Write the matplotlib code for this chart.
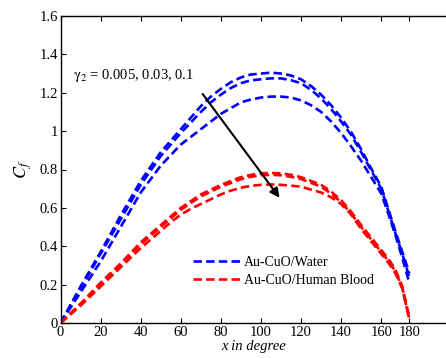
import numpy as np
import matplotlib
matplotlib.use("Agg")
import matplotlib.pyplot as plt

plt.rcParams['font.family'] = ['Liberation Serif', 'DejaVu Serif']
plt.rcParams['mathtext.fontset'] = 'stix'

# Angle (degrees) and skin friction for the two nanofluids, gamma_2 = 0.005, 0.03, 0.1
angle = [0, 5, 10, 15, 20, 25, 30, 35, 40, 45, 50, 55, 60, 65, 70, 75, 80, 85, 90,
         95, 100, 105, 110, 115, 120, 125, 130, 135, 140, 145, 150, 155, 160, 165, 170, 175, 180]

cf_water_1 = [0, 0.095, 0.19, 0.28, 0.37, 0.465, 0.56, 0.65, 0.74, 0.815, 0.89, 0.95, 1.01, 1.07, 1.13, 1.18, 1.22, 1.255, 1.28,
              1.295, 1.30, 1.305, 1.30, 1.29, 1.27, 1.235, 1.19, 1.135, 1.07, 0.995, 0.905, 0.805, 0.71, 0.595, 0.48, 0.37, 0.26]
cf_water_2 = [0, 0.09, 0.18, 0.27, 0.36, 0.45, 0.54, 0.63, 0.72, 0.795, 0.87, 0.93, 0.99, 1.045, 1.10, 1.15, 1.19, 1.225, 1.25,
              1.265, 1.27, 1.275, 1.275, 1.265, 1.25, 1.215, 1.17, 1.115, 1.05, 0.98, 0.89, 0.795, 0.70, 0.585, 0.47, 0.36, 0.24]
cf_water_3 = [0, 0.08, 0.16, 0.24, 0.32, 0.41, 0.50, 0.59, 0.68, 0.75, 0.82, 0.875, 0.93, 0.97, 1.01, 1.05, 1.09, 1.12, 1.15,
              1.165, 1.175, 1.18, 1.18, 1.175, 1.16, 1.135, 1.10, 1.05, 0.99, 0.92, 0.845, 0.76, 0.675, 0.57, 0.46, 0.34, 0.21]

cf_blood_1 = [0, 0.05, 0.10, 0.155, 0.21, 0.26, 0.31, 0.365, 0.42, 0.465, 0.51, 0.555, 0.60, 0.635, 0.67, 0.695, 0.72, 0.74, 0.76,
              0.772, 0.78, 0.782, 0.78, 0.772, 0.76, 0.74, 0.72, 0.685, 0.64, 0.58, 0.51, 0.445, 0.38, 0.335, 0.28, 0.19, 0.03]
cf_blood_2 = [0, 0.05, 0.10, 0.15, 0.20, 0.25, 0.30, 0.355, 0.41, 0.455, 0.50, 0.545, 0.59, 0.625, 0.66, 0.685, 0.71, 0.73, 0.75,
              0.762, 0.77, 0.772, 0.77, 0.762, 0.75, 0.73, 0.71, 0.675, 0.63, 0.57, 0.50, 0.435, 0.37, 0.325, 0.27, 0.185, 0.02]
cf_blood_3 = [0, 0.045, 0.09, 0.14, 0.19, 0.24, 0.29, 0.34, 0.39, 0.435, 0.48, 0.525, 0.565, 0.595, 0.62, 0.645, 0.67, 0.69, 0.705,
              0.715, 0.72, 0.722, 0.72, 0.716, 0.71, 0.695, 0.68, 0.655, 0.62, 0.565, 0.49, 0.425, 0.36, 0.315, 0.26, 0.18, 0.02]

x_ticks = [0, 20, 40, 60, 80, 100, 120, 140, 160, 180]
y_ticks = [0, 0.2, 0.4, 0.6, 0.8, 1.0, 1.2, 1.4, 1.6]


# the last interval of the x axis (160-180) is drawn shorter
def forward(x):
    x = np.asarray(x, dtype=float)
    return np.where(x <= 160, x, 160 + (x - 160) * 0.7)


def inverse(y):
    y = np.asarray(y, dtype=float)
    return np.where(y <= 160, y, 160 + (y - 160) / 0.7)


fig = plt.figure(figsize=(4.46, 3.58), dpi=100)
ax = fig.add_axes([60.5 / 446, 35 / 358, (446 - 60.5) / 446, 307 / 358])
ax.set_xscale('function', functions=(forward, inverse))

dash = (0, (3.2, 1.6))
lw = 1.9
ax.plot(angle, cf_water_1, color='b', lw=lw, ls=dash, label='Au-CuO/Water')
ax.plot(angle, cf_water_2, color='b', lw=lw, ls=dash)
ax.plot(angle, cf_water_3, color='b', lw=lw, ls=dash)
ax.plot(angle, cf_blood_1, color='r', lw=lw, ls=dash, label='Au-CuO/Human Blood')
ax.plot(angle, cf_blood_2, color='r', lw=lw, ls=dash)
ax.plot(angle, cf_blood_3, color='r', lw=lw, ls=dash)

ax.set_xlim(0, float(inverse(192.3)))
ax.set_ylim(0, 1.6)
ax.set_xticks(x_ticks)
ax.set_xticklabels([str(t) for t in x_ticks])
ax.set_yticks(y_ticks)
ax.set_yticklabels(['%g' % t for t in y_ticks])
ax.tick_params(direction='in', length=3.5, width=0.8, labelsize=10.5, top=True, right=False, pad=2)
ax.spines['right'].set_visible(False)
for s in ['left', 'bottom', 'top']:
    ax.spines[s].set_linewidth(1.0)

ax.set_xlabel('x in degree', fontsize=10.5, style='italic', labelpad=1)
ax.set_ylabel(r'$C_f$', fontsize=13, labelpad=4)

# effect of gamma_2
ax.text(6.25, 1.292, r'$\mathrm{\gamma}_2$ = 0.005, 0.03, 0.1', fontsize=10.5, va='center', ha='left')
ax.annotate('', xy=(110.1, 0.641), xytext=(70.1, 1.205),
            arrowprops=dict(arrowstyle='-|>', color='k', lw=1.5, mutation_scale=14))

ax.legend(loc='upper left', bbox_to_anchor=(193 / 446, 1 - 256 / 358), bbox_transform=fig.transFigure,
          frameon=False, fontsize=10, handlelength=3.4, handletextpad=0.25, labelspacing=0.35,
          borderpad=0, borderaxespad=0)

fig.savefig('out.png', dpi=100)
